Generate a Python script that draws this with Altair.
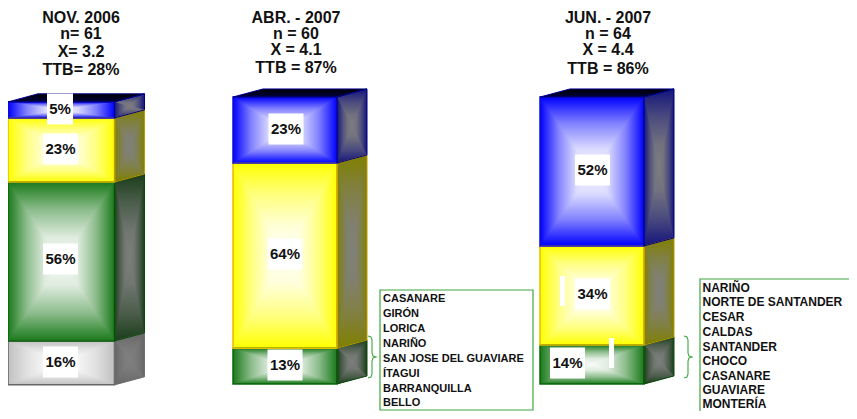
import altair as alt
import pandas as pd

# ---- data ----
SEGMENTS = [
    ["gray", "green", "yellow", "blue"],
    ["green", "yellow", "blue"],
    ["green", "yellow", "blue"],
]
HEIGHTS = [
    [15.3, 55.4, 22.3, 5.6],
    [12.5, 64.5, 23.0],
    [13.6, 34.5, 51.9],
]
BASES = [-0.3, 0.0, 0.0]

TITLES = [
    ["NOV. 2006", "n= 61", "X= 3.2", "TTB= 28%"],
    ["ABR. - 2007", "n = 60", "X = 4.1", "TTB = 87%"],
    ["JUN. - 2007", "n = 64", "X = 4.4", "TTB = 86%"],
]
VALUE_LABELS = ["5%", "23%", "56%", "16%", "23%", "64%", "13%", "52%", "34%", "14%"]
LIST_A = ["CASANARE", "GIRÓN", "LORICA", "NARIÑO", "SAN JOSE DEL GUAVIARE", "ÍTAGUI", "BARRANQUILLA", "BELLO"]
LIST_B = ["NARIÑO", "NORTE DE SANTANDER", "CESAR", "CALDAS", "SANTANDER", "CHOCO", "CASANARE", "GUAVIARE", "MONTERÍA"]

# ---- layout and style ----
BAR_X = [(8, 114.5), (233, 337), (540, 644)]
DX, DY = 30, 2.8
CURVE = [(0.0, 0.0), (0.35, 0.5), (0.7, 0.86), (1.0, 0.97)]  # edge-to-centre fade
TITLE_POS = [(81, [18, 34, 52, 70]), (296, [18, 34, 50, 68]), (608, [18, 34, 50, 69])]
LABEL_POS = [(60, 109), (60.5, 149), (60.5, 259), (60.5, 362), (286, 129), (285, 254), (285, 365),
             (592.5, 170), (592.5, 294), (567.5, 363)]
FRONT_EDGE = {"blue": "#0000ff", "yellow": "#ffff00", "green": "#1a7a1a", "gray": "#c0c0c0"}
FRONT_LINE = {"blue": "#1010d0", "yellow": "#e8bc00", "green": "#0a660a", "gray": "#666666"}
SIDE_EDGE = {"blue": "#14147c", "yellow": "#808000", "green": "#1a3d1a", "gray": "#666666"}
SIDE_LINE = {"blue": "#000080", "yellow": "#c09a00", "green": "#0a4a0a", "gray": "#707070"}
GREEN_LINE = "#3fa63f"
FONT = "Liberation Sans"

W, H = 841, 403
xs = alt.Scale(domain=[8, 8 + W], range=[0, W])
ys = alt.Scale(domain=[0, 100], range=[376, 89])


def pct(py):
    """Page-pixel y to scale units, for annotations placed on the same scale."""
    return (384 - py) / 2.87


X = lambda f: alt.X(f, type="quantitative", scale=xs, axis=None)
Y = lambda f: alt.Y(f, type="quantitative", scale=ys, axis=None)


def mix(a, b, t):
    pa = [int(a[i:i + 2], 16) for i in (1, 3, 5)]
    pb = [int(b[i:i + 2], 16) for i in (1, 3, 5)]
    return "#" + "".join(f"{round(p + (q - p) * t):02x}" for p, q in zip(pa, pb))


def grad(stops, horizontal):
    return alt.Gradient(
        gradient="linear",
        stops=[alt.GradientStop(color=c, offset=o) for o, c in stops],
        x1=0, y1=0, x2=1 if horizontal else 0, y2=0 if horizontal else 1,
    )


def fade_in(e, c, horizontal):
    return grad([(o, mix(e, c, t)) for o, t in CURVE], horizontal)


def fade_out(e, c, horizontal):
    return grad([(1 - o, mix(e, c, t)) for o, t in reversed(CURVE)], horizontal)


def fade_both(e, c, horizontal):
    half = [(o / 2, mix(e, c, t)) for o, t in CURVE]
    return grad(half + [(1 - o / 2, mix(e, c, t)) for o, t in reversed(CURVE[:-1])], horizontal)


def varea(rows, fill):
    df = pd.DataFrame(rows, columns=["x", "y", "y2"])
    return alt.Chart(df).mark_area(fill=fill, orient="vertical").encode(
        x=X("x"), y=Y("y"), y2=alt.Y2("y2"))


def harea(rows, fill):
    df = pd.DataFrame(rows, columns=["y", "x", "x2"])
    return alt.Chart(df).mark_area(fill=fill, orient="horizontal").encode(
        y=Y("y"), x=X("x"), x2=alt.X2("x2"))


def rect(x, x2, y, y2, **mark):
    df = pd.DataFrame([{"x": x, "x2": x2, "y": y, "y2": y2}])
    return alt.Chart(df).mark_rect(**mark).encode(
        x=X("x"), x2=alt.X2("x2"), y=Y("y"), y2=alt.Y2("y2"))


def polyline(points, **mark):
    df = pd.DataFrame([{"i": i, "x": p[0], "y": p[1]} for i, p in enumerate(points)])
    return alt.Chart(df).mark_line(**mark).encode(
        x=X("x"), y=Y("y"), order=alt.Order("i:Q"))


layers = []
CENTER_SIDE = "#808080"
WHITE = "#ffffff"
for (L, R), names, heights, base in zip(BAR_X, SEGMENTS, HEIGHTS, BASES):
    tops = []
    bot = base
    for name, h in zip(names, heights):
        B, T = bot, bot + h
        tops.append((B, T, name))
        bot = T
    for B, T, name in tops:
        M = (B + T) / 2
        C = (L + R) / 2
        e = FRONT_EDGE[name]
        # front: vertical ramp across the face, horizontal ramps in the left and right wedges
        layers.append(rect(L, R, B, T, fill=fade_both(e, WHITE, False)))
        layers.append(harea([(T, L, L), (M, L, C), (B, L, L)], fade_in(e, WHITE, True)))
        layers.append(harea([(T, R, R), (M, C, R), (B, R, R)], fade_out(e, WHITE, True)))
        # side
        x1, xc = R + DX, R + DX / 2
        mc = M + DY / 2
        se = SIDE_EDGE[name]
        layers.append(varea([(R, T, B), (x1, T + DY, B + DY)], fade_both(se, CENTER_SIDE, False)))
        layers.append(varea([(R, T, T), (xc, T + DY / 2, mc), (x1, T + DY, T + DY)], fade_in(se, CENTER_SIDE, False)))
        layers.append(varea([(R, B, B), (xc, mc, B + DY / 2), (x1, B + DY, B + DY)], fade_out(se, CENTER_SIDE, False)))
        layers.append(varea([(R, T, B), (xc, mc, mc)], fade_in(se, CENTER_SIDE, True)))
        layers.append(varea([(xc, mc, mc), (x1, T + DY, B + DY)], fade_out(se, CENTER_SIDE, True)))
    for B, T, name in tops:
        layers.append(rect(L, R, B, T, fillOpacity=0, stroke=FRONT_LINE[name], strokeWidth=1.5))
        layers.append(polyline([(R, T), (R + DX, T + DY), (R + DX, B + DY), (R, B), (R, T)],
                               stroke=SIDE_LINE[name], strokeWidth=1))
    T = tops[-1][1]
    layers.append(harea([(T, L, R), (T + DY, L + DX, R + DX)],
                        grad([(0, "#000000"), (1, "#000040")], False)))
    layers.append(polyline([(L, T), (L + DX, T + DY), (R + DX, T + DY), (R, T), (L, T)],
                           stroke="#000090", strokeWidth=1))

for x, x2, y, y2 in [(560, 565, 276, 306), (609, 614, 338, 368)]:
    layers.append(rect(x, x2, pct(y), pct(y2), fill=WHITE))

rows = []
for txt, (x, y) in zip(VALUE_LABELS, LABEL_POS):
    w = 26 if len(txt) == 2 else 35
    layers.append(rect(x - w / 2, x + w / 2, pct(y - 15.5), pct(y + 15.5), fill=WHITE))
    rows.append({"x": x, "y": pct(y), "t": txt})
layers.append(alt.Chart(pd.DataFrame(rows)).mark_text(
    font=FONT, fontSize=15, fontWeight="bold", color="#111111", baseline="middle", align="center"
).encode(x=X("x"), y=Y("y"), text="t:N"))

rows = []
for (x, yy), lines in zip(TITLE_POS, TITLES):
    rows += [{"x": x, "y": pct(y), "t": t} for y, t in zip(yy, lines)]
layers.append(alt.Chart(pd.DataFrame(rows)).mark_text(
    font=FONT, fontSize=16, fontWeight="bold", color="#111111", baseline="middle", align="center"
).encode(x=X("x"), y=Y("y"), text="t:N"))

layers.append(rect(380, 533, pct(290), pct(410), fillOpacity=0, stroke=GREEN_LINE, strokeWidth=1.2))
layers.append(rect(700, 880, pct(279), pct(440), fillOpacity=0, stroke=GREEN_LINE, strokeWidth=1.2))
rows = [{"x": 383, "y": pct(y), "t": t} for y, t in zip([299, 314, 329, 344, 359, 374, 389, 403], LIST_A)]
layers.append(alt.Chart(pd.DataFrame(rows)).mark_text(
    font=FONT, fontSize=11, fontWeight="bold", color="#111111", baseline="middle", align="left"
).encode(x=X("x"), y=Y("y"), text="t:N"))
rows = [{"x": 702.5, "y": pct(y), "t": t} for y, t in zip([288, 302, 317, 332, 347, 361, 376, 390, 404], LIST_B)]
layers.append(alt.Chart(pd.DataFrame(rows)).mark_text(
    font=FONT, fontSize=12, fontWeight="bold", color="#111111", baseline="middle", align="left"
).encode(x=X("x"), y=Y("y"), text="t:N"))

for pts in [
    [(368, 336), (371, 337), (372, 340), (372, 353), (373, 356), (376, 357), (373, 358), (372, 361), (372, 374), (371, 377), (368, 378)],
    [(684, 336), (687, 337), (688, 340), (688, 353), (689, 356), (692, 357), (689, 358), (688, 361), (688, 374), (687, 377), (684, 378)],
]:
    layers.append(polyline([(x, pct(y)) for x, y in pts], stroke=GREEN_LINE, strokeWidth=1.1))

chart = alt.layer(*layers).properties(
    width=W, height=H, padding=0, autosize=alt.AutoSizeParams(type="none"), background="#ffffff"
).configure_view(stroke=None)

chart.save("out.html", embed_options={"renderer": "svg", "actions": False})
